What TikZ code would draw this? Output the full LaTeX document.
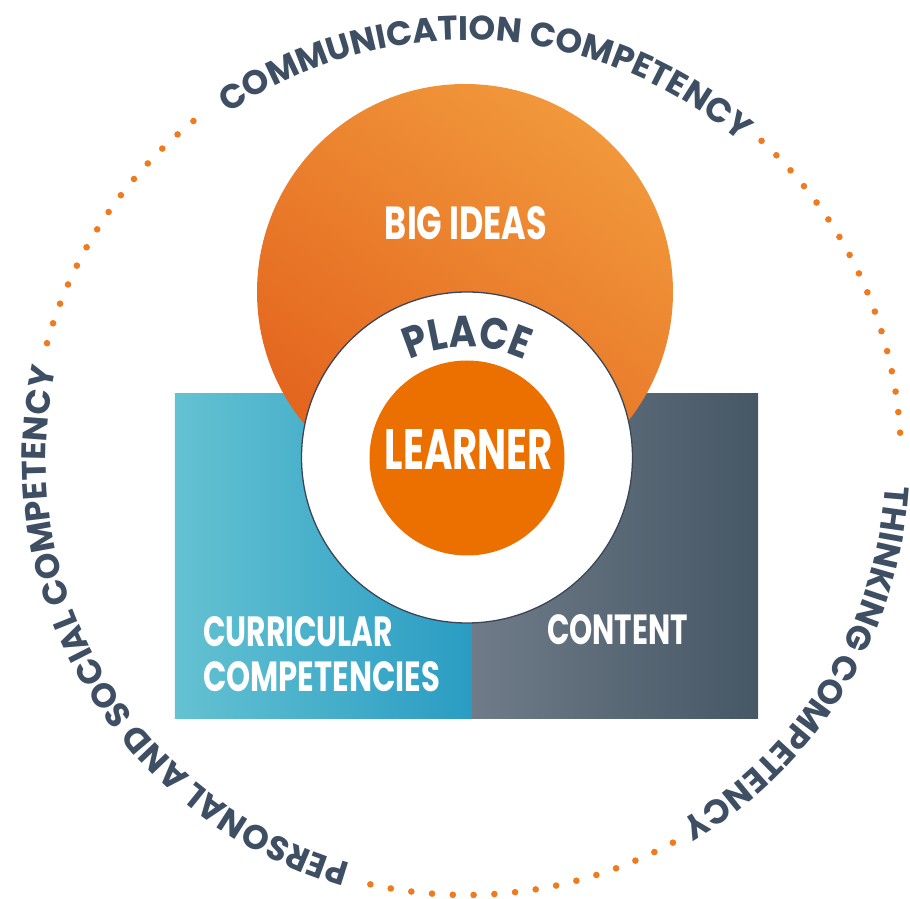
\documentclass[tikz,border=0pt]{standalone}
\usepackage{fontspec}
\usepackage{graphicx}
\usetikzlibrary{decorations.text}
\newfontfamily\pop{Poppins}
\newfontfamily\popc{Poppins}[FakeStretch=0.86]
\definecolor{slate}{HTML}{3E4E63}
\definecolor{dotorange}{HTML}{EE7B1F}
\definecolor{learnerorange}{HTML}{EC7000}
\definecolor{bigA}{HTML}{F1983B}
\definecolor{bigB}{HTML}{E3631D}
\definecolor{tealL}{HTML}{64C2D2}
\definecolor{tealR}{HTML}{2A9CC3}
\definecolor{grayL}{HTML}{6F7B88}
\definecolor{grayR}{HTML}{465765}
\definecolor{ringline}{HTML}{3A4658}
\newcommand\outerfmt{\pop\bfseries\fontsize{34}{34}\selectfont\color{slate}}
\newcommand\placefmt{\popc\bfseries\fontsize{44}{44}\selectfont\color{slate}}
\begin{document}
\begin{tikzpicture}[x=1pt,y=1pt,
  lbl/.style={inner sep=0pt, text=white},
  dotmark/.style={fill=dotorange, draw=none},
  arctext/.style={decorate, decoration={text along path, text align=fit to path}},
  arctextc/.style={decorate, decoration={text along path, text align=center}}]
\useasboundingbox (-466,-439) rectangle (444,460);
% rectangles
\path[left color=tealL, right color=tealR] (-291,-258) rectangle (6,66);
\path[left color=grayL, right color=grayR] (6,-258) rectangle (292,66);
% big ideas circle
\path[shading=axis, top color=bigA, bottom color=bigB, shading angle=-35] (-1,168) circle[radius=208pt];
% place ring
\path[fill=white, draw=ringline, line width=1.3pt] (1,2.5) circle[radius=165.5pt];
% learner
\path[fill=learnerorange] (1,2) circle[radius=97.5pt];
% labels
\node[lbl] (bigideas) at (0,236.5) {\resizebox{162pt}{33pt}{\pop\bfseries BIG IDEAS}};
\node[lbl] (learner) at (3,10) {\resizebox{168pt}{40pt}{\pop\bfseries LEARNER}};
\node[lbl, anchor=west] (curr1) at (-263,-172) {\resizebox{190pt}{30pt}{\pop\bfseries CURRICULAR}};
\node[lbl, anchor=west] (curr2) at (-263,-217) {\resizebox{237pt}{30pt}{\pop\bfseries COMPETENCIES}};
\node[lbl] (content) at (151.5,-170) {\resizebox{141pt}{30pt}{\pop\bfseries CONTENT}};
% PLACE arc text
\path[arctextc, decoration={text={|\placefmt|PLACE}}] (1,-22) ++(140:135) arc[start angle=140, end angle=40, radius=135pt];
% outer arc texts
\path[arctext, decoration={text={|\outerfmt|COMMUNICATION COMPETENCY}}] (124.5:420) arc[start angle=124.5, end angle=50, radius=420pt];
\path[arctext, decoration={text={|\outerfmt|THINKING COMPETENCY}}] (-3.5:420) arc[start angle=-3.5, end angle=-58.5, radius=420pt];
\path[arctext, decoration={text={|\outerfmt|PERSONAL AND SOCIAL COMPETENCY}}] (254:420) arc[start angle=254, end angle=168, radius=420pt];
% dotted circle segments
\foreach \i in {0,...,13} \path[dotmark] ({128.8+\i*2.74}:435) circle[radius=3.3pt];
\foreach \i in {0,...,16} \path[dotmark] ({3.6+\i*2.725}:435) circle[radius=3.3pt];
\foreach \i in {0,...,15} \path[dotmark] ({-102.7+\i*2.74}:435) circle[radius=3.3pt];
\end{tikzpicture}
\end{document}
